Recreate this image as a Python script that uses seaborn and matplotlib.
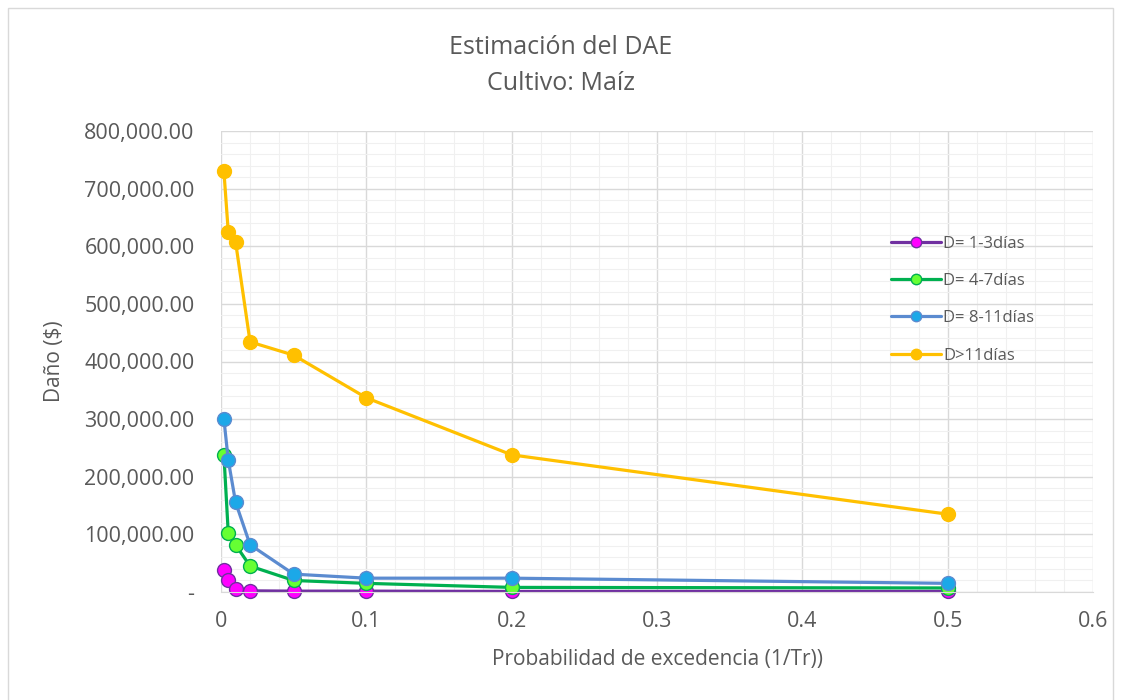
import numpy as np
import pandas as pd
import matplotlib
matplotlib.use("Agg")
import matplotlib.pyplot as plt
from matplotlib.patches import Rectangle
from matplotlib.ticker import FuncFormatter, MultipleLocator
import seaborn as sns

# probability of exceedance (1/Tr)
prob = [0.002, 0.005, 0.01, 0.02, 0.05, 0.1, 0.2, 0.5]

# damage per duration class
d_1_3 = [38000, 21000, 5000, 2000, 1500, 1500, 1000, 1000]
d_4_7 = [238000, 102000, 82000, 45000, 20000, 15000, 8000, 7000]
d_8_11 = [300000, 229000, 156000, 82000, 31000, 24000, 24000, 15000]
d_gt11 = [730000, 625000, 608000, 434000, 411000, 337000, 238000, 135000]

series_names = ["D= 1-3días", "D= 4-7días", "D= 8-11días", "D>11días"]
line_colors = ["#7030A0", "#00B050", "#5B8BD0", "#FFC000"]
face_colors = ["#FF00FF", "#66FF33", "#1CA8E8", "#FFC000"]

rows = []
for name, vals in zip(series_names, [d_1_3, d_4_7, d_8_11, d_gt11]):
    for p, v in zip(prob, vals):
        rows.append({"prob": p, "dano": v, "serie": name})
df = pd.DataFrame(rows)

sns.set_style("white")
plt.rcParams["font.family"] = ["Open Sans", "DejaVu Sans"]
text_color = "#595959"

fig = plt.figure(figsize=(11.22, 7.0), dpi=100)
ax = fig.add_axes([221 / 1122, 1 - 592 / 700, (1093 - 221) / 1122, (592 - 131) / 700])

for name, lc, fc in zip(series_names, line_colors, face_colors):
    sub = df[df["serie"] == name]
    sns.lineplot(
        data=sub, x="prob", y="dano", ax=ax, color=lc, linewidth=2.3,
        marker="o", markersize=10, markerfacecolor=fc, markeredgecolor=lc,
        markeredgewidth=1.0, label=name, clip_on=False,
    )

ax.set_xlim(0, 0.6)
ax.set_ylim(0, 800000)
ax.xaxis.set_major_locator(MultipleLocator(0.1))
ax.xaxis.set_minor_locator(MultipleLocator(0.02))
ax.yaxis.set_major_locator(MultipleLocator(100000))
ax.yaxis.set_minor_locator(MultipleLocator(20000))
ax.xaxis.set_major_formatter(FuncFormatter(lambda v, p: "0" if v == 0 else f"{v:g}"))
ax.yaxis.set_major_formatter(FuncFormatter(lambda v, p: "-" if v == 0 else f"{v:,.2f}"))

ax.grid(which="major", color="#D9D9D9", linewidth=1.0)
ax.grid(which="minor", color="#F0F0F0", linewidth=0.8)
ax.set_axisbelow(True)
for s in ["top", "right", "left"]:
    ax.spines[s].set_visible(False)
ax.spines["bottom"].set_color("#D9D9D9")
ax.tick_params(axis="both", which="both", length=0, labelsize=15.5, colors=text_color)
ax.tick_params(axis="y", pad=19)
ax.tick_params(axis="x", pad=14)

ax.set_xlabel("Probabilidad de excedencia (1/Tr))", fontsize=15, color=text_color, labelpad=12)
ax.set_ylabel("Daño ($)", fontsize=15, color=text_color, labelpad=14)

fig.text(0.5, 1 - 47 / 700, "Estimación del DAE", ha="center", va="center", fontsize=18, color=text_color)
fig.text(0.5, 1 - 83 / 700, "Cultivo: Maíz", ha="center", va="center", fontsize=18, color=text_color)

ax.get_legend().remove()
handles, labels = ax.get_legend_handles_labels()
fig.legend(
    handles, labels, loc="upper left", bbox_to_anchor=(884 / 1122, 1 - 229 / 700),
    frameon=False, fontsize=12, labelcolor=text_color, labelspacing=1.28,
    handlelength=3.0, handletextpad=0.15, borderaxespad=0, markerscale=0.75,
)

fig.add_artist(Rectangle((8 / 1122, -0.02), (1113 - 8) / 1122, 1 - 8 / 700 + 0.02,
                         transform=fig.transFigure, fill=False, edgecolor="#D9D9D9", linewidth=1.0))

fig.savefig("out.png", dpi=100)
